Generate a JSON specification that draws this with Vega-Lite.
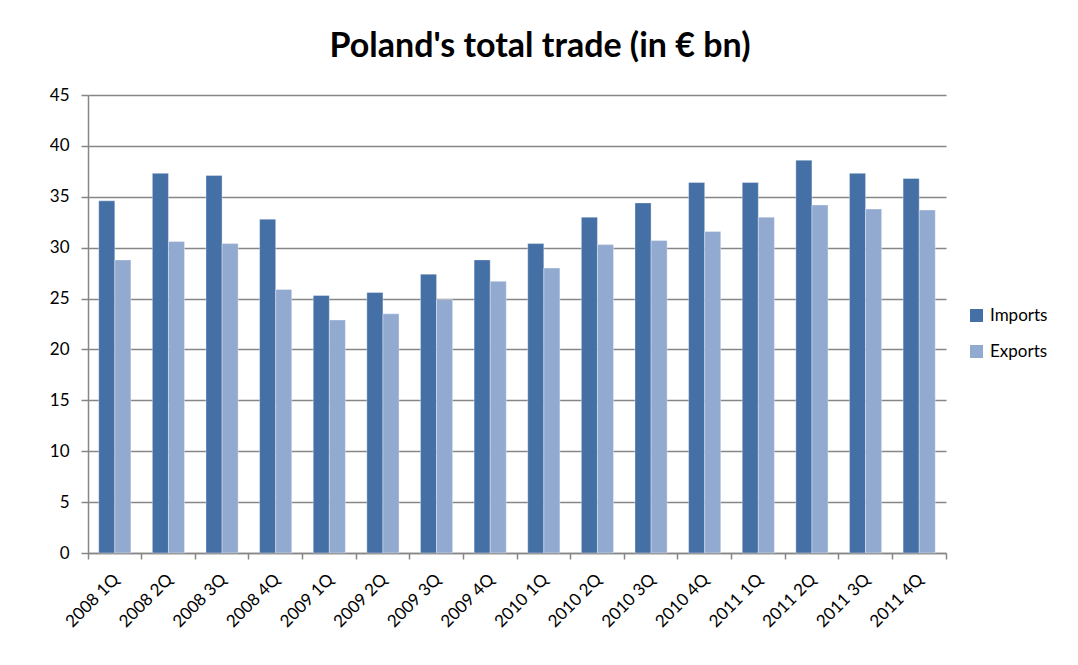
{
  "$schema": "https://vega.github.io/schema/vega-lite/v6.json",
  "width": 858,
  "height": 458,
  "autosize": {"type": "none"},
  "padding": {"left": 88, "top": 95, "right": 132, "bottom": 112},
  "background": "white",
  "title": {
    "text": "Poland's total trade (in € bn)",
    "font": "Lato",
    "fontSize": 34,
    "fontWeight": "bold",
    "color": "#000000",
    "anchor": "middle",
    "dx": 23,
    "offset": 22
  },
  "data": {
    "values": [
      {"quarter": "2008 1Q", "series": "Imports", "value": 34.6},
      {"quarter": "2008 1Q", "series": "Exports", "value": 28.8},
      {"quarter": "2008 2Q", "series": "Imports", "value": 37.3},
      {"quarter": "2008 2Q", "series": "Exports", "value": 30.6},
      {"quarter": "2008 3Q", "series": "Imports", "value": 37.1},
      {"quarter": "2008 3Q", "series": "Exports", "value": 30.4},
      {"quarter": "2008 4Q", "series": "Imports", "value": 32.8},
      {"quarter": "2008 4Q", "series": "Exports", "value": 25.9},
      {"quarter": "2009 1Q", "series": "Imports", "value": 25.3},
      {"quarter": "2009 1Q", "series": "Exports", "value": 22.9},
      {"quarter": "2009 2Q", "series": "Imports", "value": 25.6},
      {"quarter": "2009 2Q", "series": "Exports", "value": 23.5},
      {"quarter": "2009 3Q", "series": "Imports", "value": 27.4},
      {"quarter": "2009 3Q", "series": "Exports", "value": 24.9},
      {"quarter": "2009 4Q", "series": "Imports", "value": 28.8},
      {"quarter": "2009 4Q", "series": "Exports", "value": 26.7},
      {"quarter": "2010 1Q", "series": "Imports", "value": 30.4},
      {"quarter": "2010 1Q", "series": "Exports", "value": 28.0},
      {"quarter": "2010 2Q", "series": "Imports", "value": 33.0},
      {"quarter": "2010 2Q", "series": "Exports", "value": 30.3},
      {"quarter": "2010 3Q", "series": "Imports", "value": 34.4},
      {"quarter": "2010 3Q", "series": "Exports", "value": 30.7},
      {"quarter": "2010 4Q", "series": "Imports", "value": 36.4},
      {"quarter": "2010 4Q", "series": "Exports", "value": 31.6},
      {"quarter": "2011 1Q", "series": "Imports", "value": 36.4},
      {"quarter": "2011 1Q", "series": "Exports", "value": 33.0},
      {"quarter": "2011 2Q", "series": "Imports", "value": 38.6},
      {"quarter": "2011 2Q", "series": "Exports", "value": 34.2},
      {"quarter": "2011 3Q", "series": "Imports", "value": 37.3},
      {"quarter": "2011 3Q", "series": "Exports", "value": 33.8},
      {"quarter": "2011 4Q", "series": "Imports", "value": 36.8},
      {"quarter": "2011 4Q", "series": "Exports", "value": 33.7}
    ]
  },
  "mark": {"type": "bar", "stroke": "#ffffff", "strokeOpacity": 0.35, "strokeWidth": 1},
  "encoding": {
    "x": {
      "field": "quarter",
      "type": "nominal",
      "sort": null,
      "scale": {"paddingInner": 0, "paddingOuter": 0},
      "axis": {
        "title": null,
        "labelAngle": -45,
        "labelFont": "Lato",
        "labelFontSize": 17,
        "labelColor": "#000000",
        "labelPadding": 12,
        "labelOffset": -4,
        "bandPosition": 1,
        "tickExtra": true,
        "tickSize": 6,
        "tickColor": "#868686",
        "tickWidth": 1.5,
        "domainColor": "#868686",
        "domainWidth": 1.5,
        "grid": false
      }
    },
    "xOffset": {
      "field": "series",
      "type": "nominal",
      "sort": ["Imports", "Exports"],
      "scale": {"paddingInner": 0, "paddingOuter": 0.667}
    },
    "y": {
      "field": "value",
      "type": "quantitative",
      "scale": {"domain": [0, 45], "nice": false},
      "axis": {
        "title": null,
        "values": [0, 5, 10, 15, 20, 25, 30, 35, 40, 45],
        "labelFont": "Lato",
        "labelFontSize": 17,
        "labelColor": "#000000",
        "labelPadding": 12,
        "tickSize": 7,
        "tickColor": "#868686",
        "tickWidth": 1.5,
        "domainColor": "#868686",
        "domainWidth": 1.5,
        "grid": true,
        "gridColor": "#868686",
        "gridWidth": 1.5
      }
    },
    "color": {
      "field": "series",
      "type": "nominal",
      "sort": ["Imports", "Exports"],
      "scale": {"domain": ["Imports", "Exports"], "range": ["#4570A6", "#93AAD0"]},
      "legend": {
        "title": null,
        "orient": "none",
        "legendX": 880,
        "legendY": 212,
        "padding": 0,
        "symbolType": "square",
        "symbolSize": 169,
        "symbolStrokeWidth": 0,
        "labelFont": "Lato",
        "labelFontSize": 17,
        "labelColor": "#000000",
        "labelOffset": 5,
        "rowPadding": 18
      }
    }
  },
  "config": {"view": {"stroke": null}}
}
